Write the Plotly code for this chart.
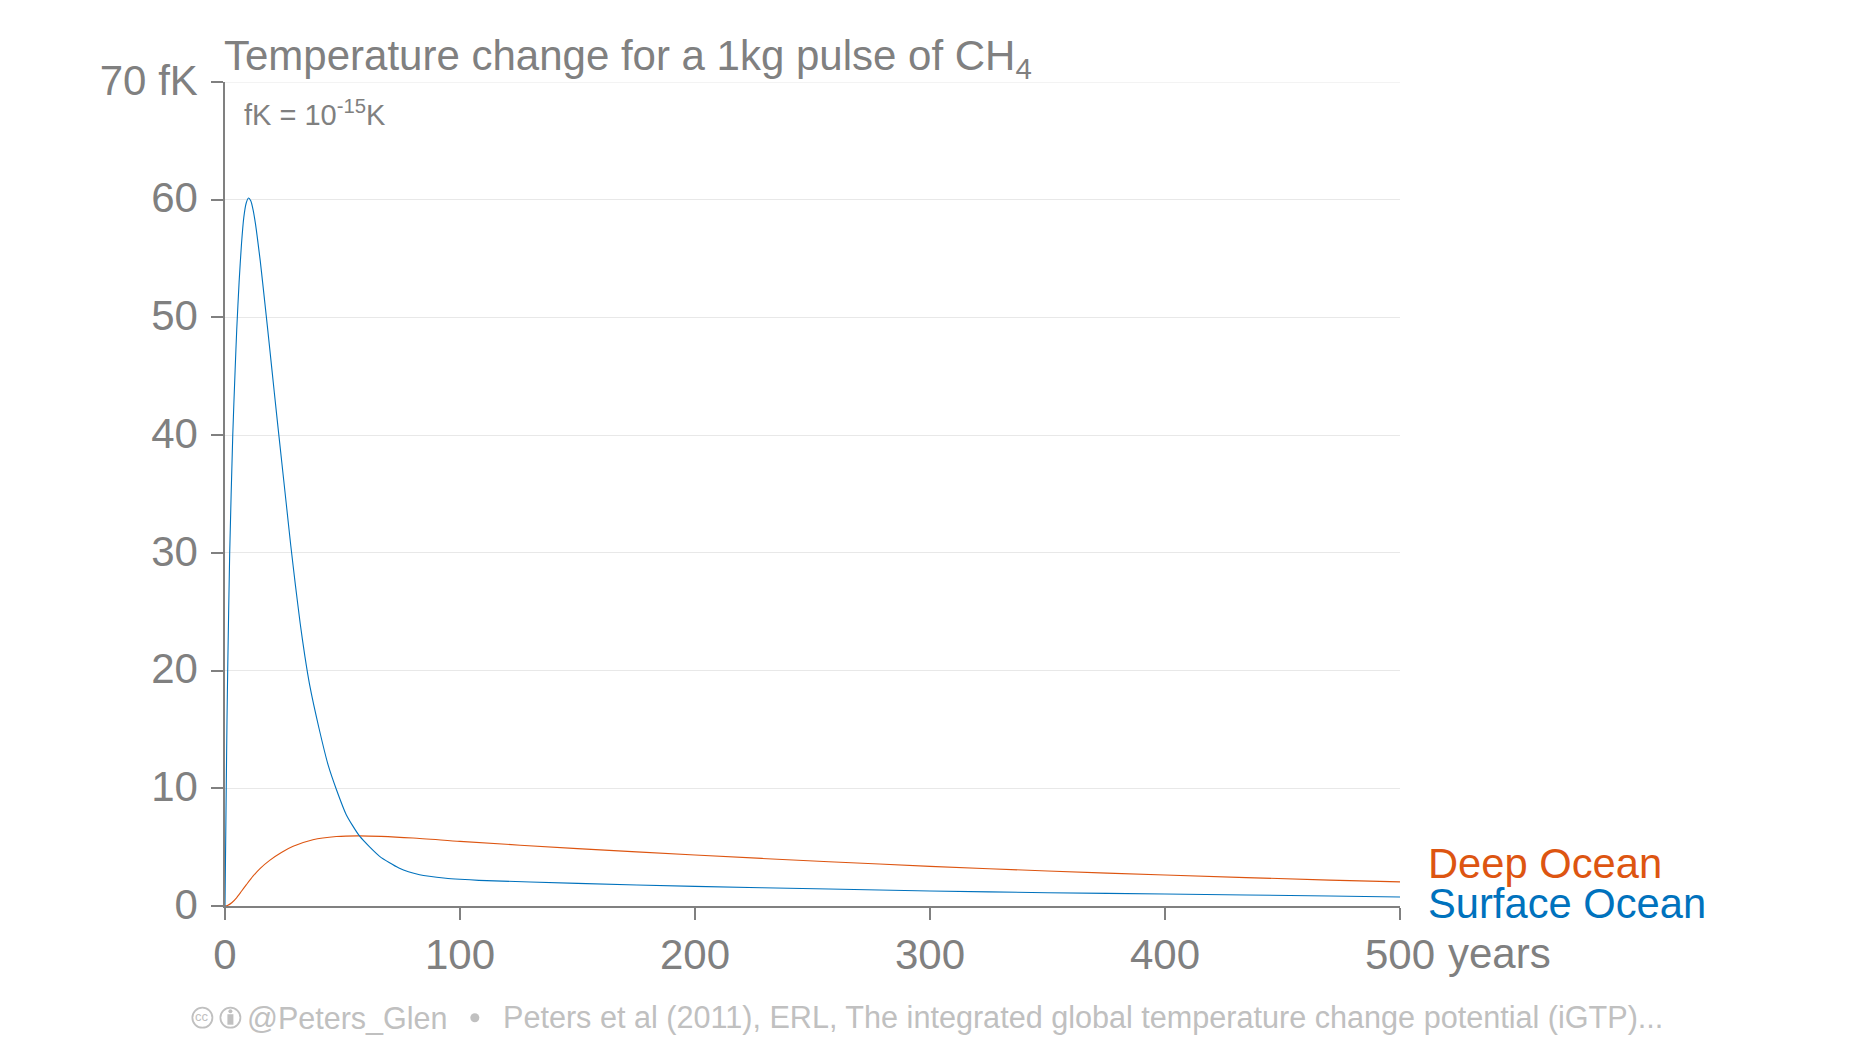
import plotly.graph_objects as go

years_surface = [0, 0.5, 0.85, 1.15, 2, 3.3, 4.3, 5, 6, 7, 8, 9, 10, 11, 12, 13, 14, 15, 16, 18, 20, 22, 24, 26, 28, 30, 32, 34, 36, 40, 44, 47.4, 51.6, 57.3, 65.8, 74, 82.8, 94, 100, 108, 150, 200, 257, 300, 350, 400, 470, 500]
surface_ocean = [0, 9.5, 15.8, 20, 30, 40, 45.5, 49, 53, 56.2, 58.5, 59.7, 60.15, 59.9, 59.1, 57.9, 56.4, 54.8, 53, 49.3, 45.5, 41.7, 38, 34.3, 30.6, 27.2, 24, 21.2, 18.8, 15.1, 11.9, 9.9, 7.76, 5.93, 4.22, 3.23, 2.66, 2.36, 2.27, 2.18, 1.92, 1.67, 1.44, 1.27, 1.13, 1.02, 0.85, 0.76]

years_deep = [0, 1, 3, 5, 7, 9.1, 12, 15, 19, 24, 29, 37.4, 47.4, 57, 80, 100, 150, 200, 257, 300, 350, 400, 470, 500]
deep_ocean = [0, 0.04, 0.3, 0.72, 1.25, 1.81, 2.55, 3.2, 3.88, 4.55, 5.07, 5.63, 5.9, 5.96, 5.78, 5.49, 4.87, 4.33, 3.76, 3.37, 2.97, 2.63, 2.2, 2.05]

x_ticks = [0, 100, 200, 300, 400, 500]
y_ticks = [0, 10, 20, 30, 40, 50, 60, 70]
y_tick_labels = ["0", "10", "20", "30", "40", "50", "60", "70 fK"]

TITLE = "Temperature change for a 1kg pulse of CH<sub>4</sub>"
NOTE = "fK = 10<sup>-15</sup>K"
HANDLE = "@Peters_Glen"
SOURCE = "Peters et al (2011), ERL, The integrated global temperature change potential (iGTP)..."

GRAY = "#808080"
LIGHT = "#c0c0c0"
BLUE = "#0072bd"
ORANGE = "#dd5511"
GRID = "#e8e8e8"
FONT = "Liberation Sans"

W, H = 1852, 1042
L, R, T, B = 225.3, 1399.7, 82.3, 906.3


def px(x):
    return (x - L) / (R - L)


def py(y):
    return (B - y) / (B - T)


fig = go.Figure()
fig.add_trace(go.Scatter(x=years_deep, y=deep_ocean, mode="lines", line=dict(color=ORANGE, width=1.1, shape="spline", smoothing=0.6), showlegend=False))
fig.add_trace(go.Scatter(x=years_surface, y=surface_ocean, mode="lines", line=dict(color=BLUE, width=1.1, shape="spline", smoothing=0.6), showlegend=False))


def label(text, x, y, size, color, anchor="left"):
    fig.add_annotation(text=text, xref="paper", yref="paper", x=px(x), y=py(y), xanchor=anchor, yanchor="middle",
                       showarrow=False, font=dict(family=FONT, size=size, color=color), borderpad=0, borderwidth=0)


label(TITLE, 224, 59, 42, GRAY)
label(NOTE, 244, 113, 29, GRAY)
label("Deep Ocean", 1428, 864, 41.7, ORANGE)
label("Surface Ocean", 1428, 904, 41.7, BLUE)
label("years", 1448, 954, 42, GRAY)
label(HANDLE, 247, 1018, 30.5, LIGHT)
label(SOURCE, 503, 1018, 30.6, LIGHT)
label("cc", 202.7, 1017, 13, LIGHT, "center")

shapes = [dict(type="line", xref="paper", yref="y", x0=0, x1=1, y0=70, y1=70, layer="below", line=dict(color=GRID, width=1))]
for cx in (202.7, 230.7):
    shapes.append(dict(type="circle", xref="paper", yref="paper", x0=px(cx - 10), x1=px(cx + 10), y0=py(1018 + 10), y1=py(1018 - 10),
                       line=dict(color=LIGHT, width=1.8)))
shapes.append(dict(type="circle", xref="paper", yref="paper", x0=px(228.7), x1=px(232.7), y0=py(1013.5), y1=py(1009.5), fillcolor=LIGHT, line=dict(width=0)))
shapes.append(dict(type="rect", xref="paper", yref="paper", x0=px(227.7), x1=px(233.7), y0=py(1025), y1=py(1014.5), fillcolor=LIGHT, line=dict(width=0)))
shapes.append(dict(type="circle", xref="paper", yref="paper", x0=px(470.5), x1=px(479.5), y0=py(1022.5), y1=py(1013.5), fillcolor=LIGHT, line=dict(width=0)))

fig.update_layout(
    width=W, height=H, autosize=False,
    margin=dict(l=L, r=W - R, t=T, b=H - B, pad=0),
    paper_bgcolor="white", plot_bgcolor="white",
    showlegend=False, shapes=shapes,
    font=dict(family=FONT, color=GRAY),
    xaxis=dict(range=[0, 500], tickvals=x_ticks, ticktext=[str(v) for v in x_ticks], ticks="outside", ticklen=12, tickwidth=1.5, tickcolor=GRAY,
               showline=True, linecolor=GRAY, linewidth=1.5, showgrid=False, zeroline=False,
               tickfont=dict(family=FONT, size=42, color=GRAY), ticklabelstandoff=-1),
    yaxis=dict(range=[0, 70], tickvals=y_ticks, ticktext=y_tick_labels, ticks="outside", ticklen=12, tickwidth=1.5, tickcolor=GRAY,
               showline=True, linecolor=GRAY, linewidth=1.5, showgrid=True, gridcolor=GRID, gridwidth=1, zeroline=False,
               tickfont=dict(family=FONT, size=42, color=GRAY), ticklabelstandoff=5, ticklabelshift=-2),
)

fig.write_html("out.html", config=dict(displayModeBar=False),
               post_script="document.body.style.margin='0';document.body.style.overflow='hidden';")
